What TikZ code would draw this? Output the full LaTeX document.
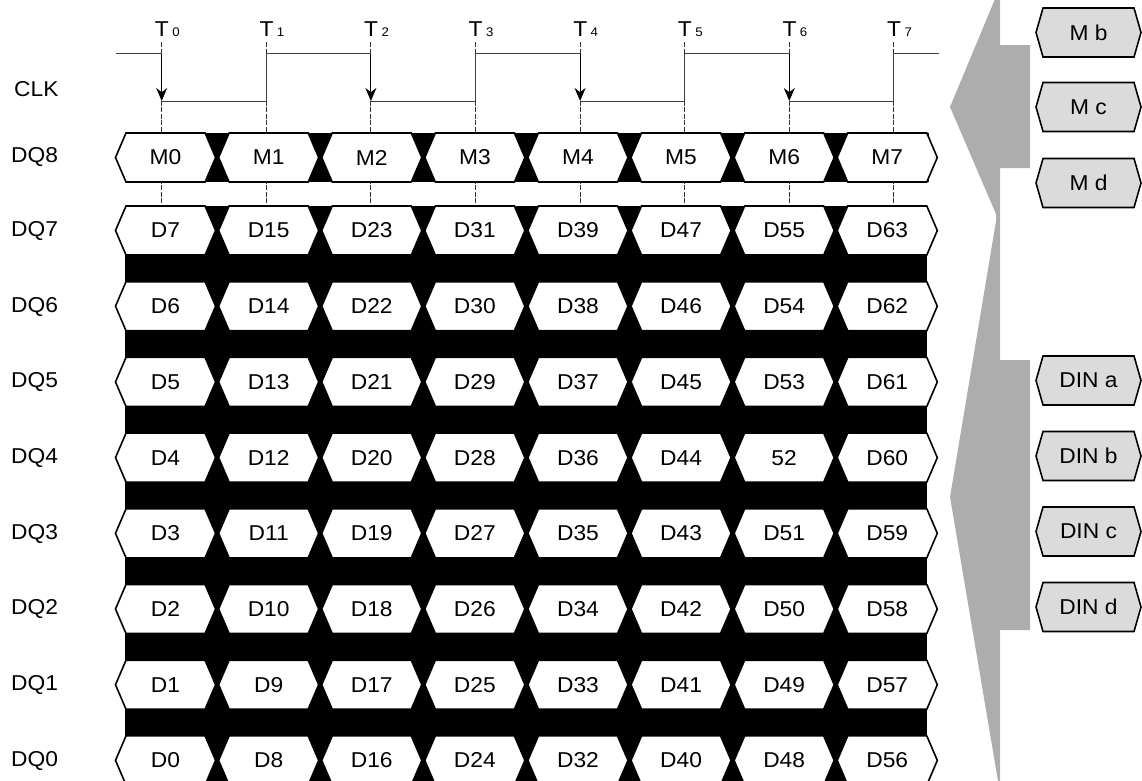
\documentclass[tikz,border=0pt]{standalone}
\usepackage{fontspec}
\setmainfont{Liberation Sans}[FakeStretch=1.06]
\usetikzlibrary{arrows.meta}
\begin{document}
\begin{tikzpicture}[x=1pt,y=-1pt,
  txt/.style={inner sep=0pt,font=\fontsize{21.5}{25}\selectfont},
  hexcell/.style={draw=black,fill=white,line width=1.6pt,line join=miter},
  sidebox/.style={draw=black,fill=black!14,line width=1.6pt,line join=miter},
  bigarrow/.style={fill=black!32},
  clk/.style={draw=black!75,line width=1pt},
  tline/.style={draw=black!80,line width=0.9pt,dash pattern=on 5pt off 1.5pt},
  edgearrow/.style={draw=black,line width=1pt,-{Stealth[length=13pt,width=11pt]}}]
\useasboundingbox (0,0) rectangle (1142,780);
\clip (0,0) rectangle (1142,780);

% clock time marks
\foreach \k in {0,...,7}{
  \pgfmathsetmacro\tx{161.7+104.6*\k}
  \coordinate (ttop\k) at (\tx,42);
  \coordinate (tbot\k) at (\tx,206);
  \coordinate (thi\k) at (\tx,53.5);
  \coordinate (tlo\k) at (\tx,101);
  \draw[tline] (ttop\k) -- (tbot\k);
  \node[txt,anchor=base west] (tlab\k) at (\tx-7,36) {T\hspace{3.5pt}{\fontsize{12.5}{12.5}\selectfont\k}};
}
% clock waveform
\coordinate (cstart) at (116,53.5);
\coordinate (cend) at (939,53.5);
\draw[clk] (cstart) -- (thi0);
\foreach \a/\b in {0/1,2/3,4/5,6/7}{
  \draw[clk] (tlo\a) -- (tlo\b) -- (thi\b);
  \draw[edgearrow] (thi\a) -- (tlo\a);
}
\foreach \a/\b in {1/2,3/4,5/6}{
  \draw[clk] (thi\a) -- (thi\b);
}
\draw[clk] (thi7) -- (cend);

% labels on the left
\node[txt,anchor=west] (lclk) at (14,89) {CLK};
\node[txt,anchor=west] (ldq8) at (11,157.5) {DQ8};
\foreach \n in {7,...,0}{
  \pgfmathsetmacro\yc{231+75.7*(7-\n)}
  \node[txt,anchor=west] (ldq\n) at (11,\yc) {DQ\n};
}

% black backgrounds
\fill[black] (126,133) rectangle (929,182);
\fill[black] (125,206) rectangle (927,790);

% DQ8 row
\foreach \k in {0,...,7}{
  \pgfmathsetmacro\xa{114+103.1*\k}
  \pgfmathsetmacro\xb{\xa+103.1}
  \pgfmathsetmacro\xm{\xa+51.55}
  \draw[hexcell] (\xa+1.5,157.5) -- (\xa+12,133) -- (\xb-12,133) -- (\xb-1.5,157.5) -- (\xb-12,182) -- (\xa+12,182) -- cycle;
  \node[txt] (m\k) at (\xm,157.5) {M\k};
}

% DQ7..DQ0 rows
\foreach \n in {7,...,0}{
  \pgfmathsetmacro\yc{230.5+75.7*(7-\n)}
  \foreach \k in {0,...,7}{
    \pgfmathsetmacro\xa{114+103.1*\k}
    \pgfmathsetmacro\xb{\xa+103.1}
    \pgfmathsetmacro\xm{\xa+51.55}
    \pgfmathtruncatemacro\num{8*\k+\n}
    \draw[hexcell] (\xa+1.5,\yc) -- (\xa+12,\yc-24.5) -- (\xb-12,\yc-24.5) -- (\xb-1.5,\yc) -- (\xb-12,\yc+24.5) -- (\xa+12,\yc+24.5) -- cycle;
    \ifnum\num=52
      \node[txt] (d\num) at (\xm,\yc) {52};
    \else
      \node[txt] (d\num) at (\xm,\yc) {D\num};
    \fi
  }
}

% big gray arrow shape
\fill[bigarrow] (1000,-1) -- (995,-1) -- (950,107) -- (996,214) -- (996,221) -- (950,497) -- (998,781) -- (1000,781) -- (1000,630) -- (1030,630) -- (1030,360) -- (1000,360) -- (1000,168) -- (1030,168) -- (1030,45) -- (1000,45) -- cycle;

% side boxes
\foreach \yc/\lab/\nm in {32.5/M b/mb,107/M c/mc,183/M d/md,380.5/DIN a/dina,456/DIN b/dinb,531.5/DIN c/dinc,607/DIN d/dind}{
  \draw[sidebox] (1036,\yc) -- (1043,\yc-24.5) -- (1134,\yc-24.5) -- (1141,\yc) -- (1134,\yc+24.5) -- (1043,\yc+24.5) -- cycle;
  \node[txt] (\nm) at (1088.5,\yc) {\lab};
}
\end{tikzpicture}
\end{document}
